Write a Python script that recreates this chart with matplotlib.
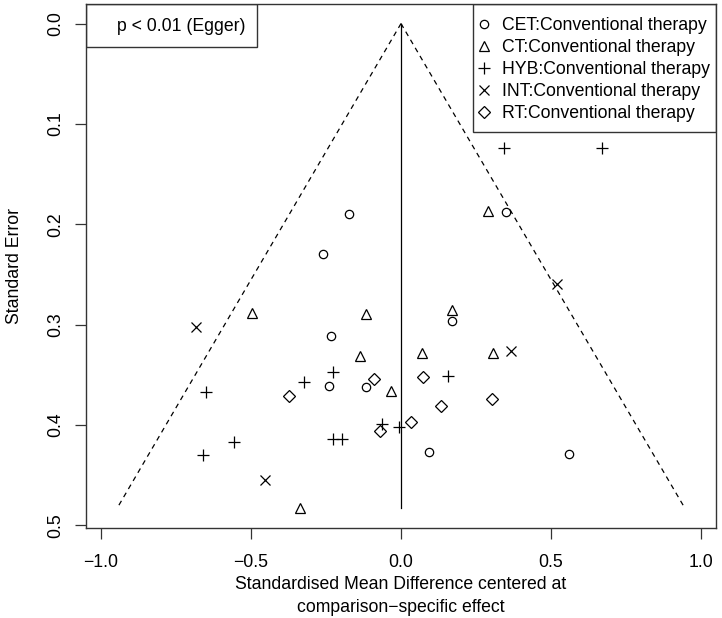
import matplotlib

matplotlib.use("Agg")
import matplotlib.pyplot as plt
from matplotlib.patches import Rectangle

plt.rcParams['font.family'] = ['Liberation Sans', 'DejaVu Sans']

# comparison-specific centred SMD and its standard error, per comparison
cet_x = [-0.172, -0.259, 0.350, -0.232, -0.239, -0.117, 0.171, 0.093, 0.560]
cet_se = [0.190, 0.230, 0.188, 0.311, 0.361, 0.362, 0.296, 0.427, 0.429]

ct_x = [0.289, -0.498, -0.117, -0.137, -0.032, -0.336, 0.171, 0.071, 0.308]
ct_se = [0.187, 0.288, 0.289, 0.331, 0.366, 0.483, 0.285, 0.328, 0.328]

hyb_x = [0.344, 0.671, -0.226, -0.324, -0.651, -0.063, -0.008, -0.556, -0.226, -0.197, -0.659, 0.156]
hyb_se = [0.124, 0.124, 0.347, 0.357, 0.367, 0.399, 0.402, 0.417, 0.414, 0.414, 0.430, 0.351]

int_x = [-0.684, -0.454, 0.519, 0.367]
int_se = [0.302, 0.455, 0.259, 0.326]

rt_x = [-0.091, -0.373, -0.069, 0.032, 0.072, 0.134, 0.303]
rt_se = [0.354, 0.371, 0.406, 0.397, 0.352, 0.381, 0.374]

labels = ["CET:Conventional therapy", "CT:Conventional therapy", "HYB:Conventional therapy",
          "INT:Conventional therapy", "RT:Conventional therapy"]
egger_text = "p < 0.01 (Egger)"

FS = 12.7
EDGE = "#333333"

fig = plt.figure(figsize=(7.22, 6.18), dpi=100)
ax = fig.add_axes([86 / 722, 90 / 618, 630 / 722, 524 / 618])

se_max = max(cet_se + ct_se + hyb_se + int_se + rt_se)
dash = (0, (4, 3.5))
ax.plot([0, -1.96 * se_max], [0, se_max], color="black", lw=0.9, linestyle=dash)
ax.plot([0, 1.96 * se_max], [0, se_max], color="black", lw=0.9, linestyle=dash)
ax.plot([0, 0], [0, se_max], color="black", lw=0.9)

common = dict(linestyle="none", color="black", markerfacecolor="none", mew=0.9)
h1, = ax.plot(cet_x, cet_se, marker="o", ms=6, label=labels[0], **common)
h2, = ax.plot(ct_x, ct_se, marker="^", ms=7.5, label=labels[1], **common)
h3, = ax.plot(hyb_x, hyb_se, marker="+", ms=9, label=labels[2], **common)
h4, = ax.plot(int_x, int_se, marker="x", ms=6.5, label=labels[3], **common)
h5, = ax.plot(rt_x, rt_se, marker="D", ms=6, label=labels[4], **common)

ax.set_xlim(-1.05, 1.05)
ax.set_ylim(0.5025, -0.0195)
ax.set_xticks([-1.0, -0.5, 0.0, 0.5, 1.0])
ax.set_xticklabels(["\u22121.0", "\u22120.5", "0.0", "0.5", "1.0"], fontsize=FS)
ax.set_yticks([0.0, 0.1, 0.2, 0.3, 0.4, 0.5])
ax.set_yticklabels(["0.0", "0.1", "0.2", "0.3", "0.4", "0.5"], fontsize=FS,
                   rotation=90, va="center")
ax.tick_params(direction="out", length=8, width=0.9, color=EDGE)
ax.tick_params(axis="x", pad=11)
ax.tick_params(axis="y", pad=8)
for s in ax.spines.values():
    s.set_linewidth(1.0)
    s.set_color(EDGE)

ax.set_xlabel("Standardised Mean Difference centered at\ncomparison\u2212specific effect",
              fontsize=FS, linespacing=1.45, labelpad=3.5)
ax.set_ylabel("Standard Error", fontsize=FS, labelpad=17)

# legend box drawn by hand so the vertical padding can differ from the horizontal
leg = ax.legend(handles=[h1, h2, h3, h4, h5], loc="upper right", fontsize=FS,
                frameon=False, bbox_to_anchor=(1.0, 0.9866), borderaxespad=0,
                handlelength=0.8, handletextpad=0.6, labelspacing=0.285, borderpad=0.35)
ax.add_patch(Rectangle((0.614, 0.7563), 0.386, 0.2437, transform=ax.transAxes,
                       fill=False, edgecolor=EDGE, lw=1.0, zorder=5))

# Egger test box, top-left corner
ax.add_patch(Rectangle((0, 0.9185), 0.271, 0.0815, transform=ax.transAxes,
                       fill=False, edgecolor=EDGE, lw=1.0, zorder=5))
ax.text(0.2535, 0.9567, egger_text, transform=ax.transAxes, fontsize=FS,
        ha="right", va="center")

fig.savefig("out.png", dpi=100)
